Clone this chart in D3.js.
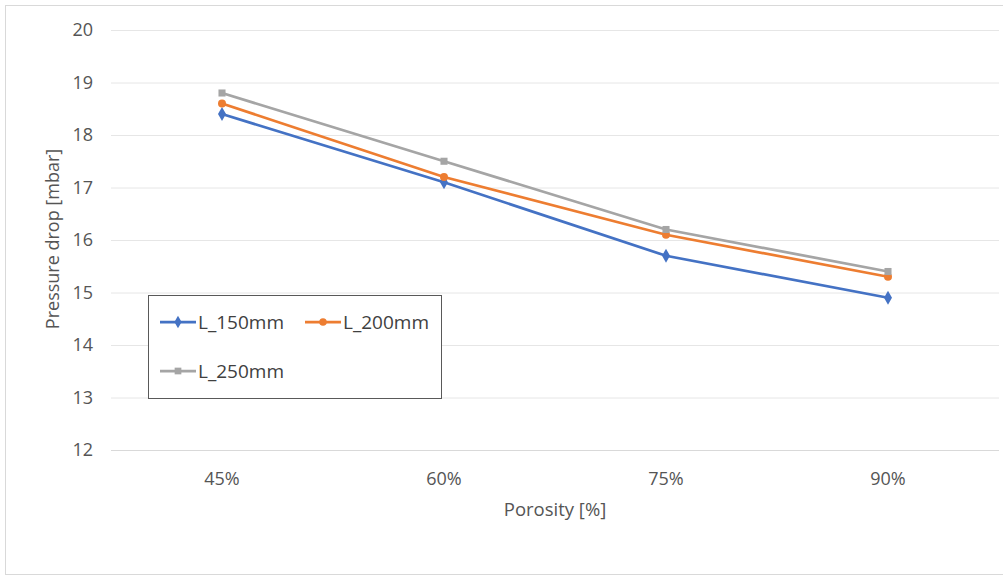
<!DOCTYPE html>
<html>
<head>
<meta charset="utf-8">
<script src="https://cdn.jsdelivr.net/npm/d3@7"></script>
<style>
body { margin: 0; background: #fff; }
text { font-family: "Open Sans", "Liberation Sans", sans-serif; fill: #555; }
</style>
</head>
<body>
<svg width="1003" height="580"></svg>
<script>
var categories = ["45%", "60%", "75%", "90%"];
var l150 = [18.4, 17.1, 15.7, 14.9];
var l200 = [18.6, 17.2, 16.1, 15.3];
var l250 = [18.8, 17.5, 16.2, 15.4];
var yTicks = [12, 13, 14, 15, 16, 17, 18, 19, 20];

var series = [
    {name: "L_150mm", values: l150, color: "#4472c4", symbol: d3.symbolDiamond},
    {name: "L_200mm", values: l200, color: "#ed7d31", symbol: d3.symbolCircle},
    {name: "L_250mm", values: l250, color: "#a5a5a5", symbol: d3.symbolSquare}
];

var svg = d3.select("svg");
svg.append("rect").attr("x", 5.5).attr("y", 5.5).attr("width", 1010).attr("height", 569)
    .attr("fill", "#fff").attr("stroke", "#d9d9d9");

var x = d3.scaleBand().domain(categories).range([111, 999]);
var y = d3.scaleLinear().domain([12, 20]).range([450, 30]);

// gridlines
svg.append("g").selectAll("line").data(yTicks).enter().append("line")
    .attr("x1", 111).attr("x2", 999)
    .attr("y1", function (d) { return y(d) + 0.5; })
    .attr("y2", function (d) { return y(d) + 0.5; })
    .attr("stroke", function (d) { return d === 12 ? "#d9d9d9" : "#e6e6e6"; })
    .attr("stroke-width", 1);

// y tick labels
svg.append("g").selectAll("text").data(yTicks).enter().append("text")
    .attr("x", 93).attr("y", function (d) { return y(d); })
    .attr("dy", "0.35em").attr("text-anchor", "end")
    .style("font-size", "18px").text(function (d) { return d; });

// x tick labels
svg.append("g").selectAll("text").data(categories).enter().append("text")
    .attr("x", function (d) { return x(d) + x.bandwidth() / 2; })
    .attr("y", 479).attr("dy", "0.35em").attr("text-anchor", "middle")
    .style("font-size", "18px").text(function (d) { return d; });

svg.append("text").attr("x", 555).attr("y", 510).attr("dy", "0.35em").attr("text-anchor", "middle")
    .style("font-size", "18.5px").text("Porosity [%]");

svg.append("text").attr("transform", "translate(53,239) rotate(-90)")
    .attr("dy", "0.35em").attr("text-anchor", "middle").style("font-size", "18px")
    .text("Pressure drop [mbar]");

var line = d3.line()
    .x(function (d, i) { return x(categories[i]) + x.bandwidth() / 2; })
    .y(function (d) { return y(d); });

series.forEach(function (s) {
    var g = svg.append("g");
    g.append("path").datum(s.values).attr("d", line)
        .attr("fill", "none").attr("stroke", s.color).attr("stroke-width", 2.75);
    g.selectAll("path.m").data(s.values).enter().append("path").attr("class", "m")
        .attr("d", d3.symbol().type(s.symbol).size(s.symbol === d3.symbolDiamond ? 55 : 50))
        .attr("transform", function (d, i) {
            return "translate(" + (x(categories[i]) + x.bandwidth() / 2) + "," + y(d) + ")";
        })
        .attr("fill", s.color);
});

// legend
var lg = svg.append("g");
lg.append("rect").attr("x", 148.5).attr("y", 295.5).attr("width", 293).attr("height", 103)
    .attr("fill", "#fff").attr("stroke", "#595959").attr("stroke-width", 1);
var legendPos = [[160, 322], [305, 322], [160, 371]];
series.forEach(function (s, i) {
    var p = legendPos[i];
    lg.append("line").attr("x1", p[0]).attr("x2", p[0] + 36).attr("y1", p[1]).attr("y2", p[1])
        .attr("stroke", s.color).attr("stroke-width", 2.75);
    lg.append("path").attr("d", d3.symbol().type(s.symbol).size(45))
        .attr("transform", "translate(" + (p[0] + 18) + "," + p[1] + ")").attr("fill", s.color);
    lg.append("text").attr("x", p[0] + 38).attr("y", p[1]).attr("dy", "0.35em")
        .style("font-size", "19px").style("fill", "#404040").text(s.name);
});
</script>
</body>
</html>
